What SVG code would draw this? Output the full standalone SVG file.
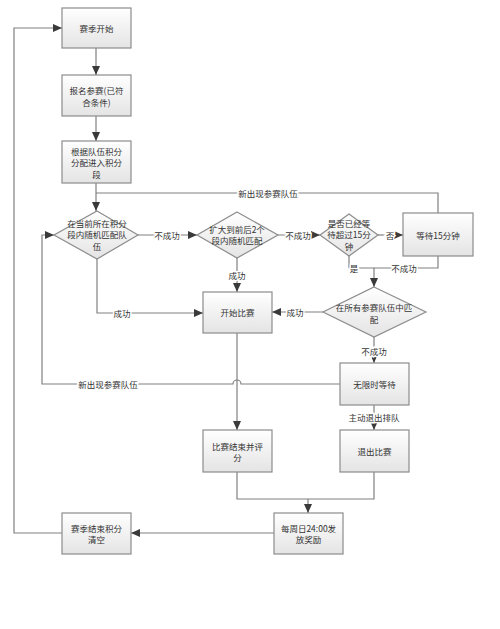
<svg xmlns="http://www.w3.org/2000/svg" width="500" height="629" viewBox="0 0 500 629">
<defs>
<linearGradient id="g" x1="0" y1="0" x2="0" y2="1">
<stop offset="0" stop-color="#ffffff"/>
<stop offset="1" stop-color="#e4e4e4"/>
</linearGradient>
<marker id="ar" markerUnits="userSpaceOnUse" markerWidth="9" markerHeight="8" refX="9" refY="4" orient="auto">
<path d="M0,0 L9,4 L0,8 Z" fill="#3a3a3a"/>
</marker>
<style>
.n rect,.n polygon{fill:url(#g);stroke:#8c8c8c;stroke-width:1.2}
text{font-family:"Noto Sans CJK SC","Liberation Sans",sans-serif;font-size:8.5px;fill:#333;text-anchor:middle;dominant-baseline:central}
.c path{fill:none;stroke:#808080;stroke-width:1.2}
.c .a{marker-end:url(#ar)}
.lb{stroke:#fff;stroke-width:3;paint-order:stroke}
</style>
</defs>
<rect width="500" height="629" fill="#fff"/>

<g id="connectors" class="c">
<path class="a" d="M96,48 V75"/>
<path class="a" d="M96,116 V141"/>
<path class="a" d="M96,183 V211"/>
<path d="M96,193 H438 V213"/>
<path class="a" d="M138,235 H197"/>
<path class="a" d="M97,259 V313 H203"/>
<path class="a" d="M237,258 V292"/>
<path class="a" d="M278,235 H320"/>
<path class="a" d="M378,235 H403"/>
<path d="M438,256 V268 H374"/>
<path class="a" d="M349,256 V268 H374 V287"/>
<path class="a" d="M323,312 H272"/>
<path class="a" d="M374,337 V363"/>
<path class="a" d="M340,384 H241 A4,4 0 0 0 233,384 H42 V235 H54"/>
<path class="a" d="M374,405 V430"/>
<path class="a" d="M237,333 V430"/>
<path d="M237,472 V499 H374 V472"/>
<path class="a" d="M308,499 V513"/>
<path class="a" d="M274,533 H131"/>
<path class="a" d="M62,533 H14 V28 H62"/>
<text class="lb" x="268" y="193">新出现参赛队伍</text>
<text class="lb" x="167" y="235">不成功</text>
<text class="lb" x="122" y="313">成功</text>
<text class="lb" x="237" y="275">成功</text>
<text class="lb" x="298" y="235">不成功</text>
<text class="lb" x="390" y="235">否</text>
<text class="lb" x="404" y="268">不成功</text>
<text class="lb" x="354" y="268">是</text>
<text class="lb" x="295" y="312">成功</text>
<text class="lb" x="374" y="351">不成功</text>
<text class="lb" x="108" y="384">新出现参赛队伍</text>
<text class="lb" x="374" y="417">主动退出排队</text>
</g>

<g id="n1" class="n"><rect x="62" y="8" width="69" height="40"/><text x="96.5" y="28">赛季开始</text></g>
<g id="n2" class="n"><rect x="62" y="75" width="69" height="41"/><text x="96.5" y="90">报名参赛(已符</text><text x="96.5" y="101.5">合条件)</text></g>
<g id="n3" class="n"><rect x="62" y="141" width="69" height="42"/><text x="96.5" y="150.5">根据队伍积分</text><text x="96.5" y="162">分配进入积分</text><text x="96.5" y="173.5">段</text></g>
<g id="d1" class="n"><polygon points="97,211 138,235 97,259 54,235"/><text x="97" y="222.5">在当前所在积分</text><text x="97" y="234">段内随机匹配队</text><text x="97" y="245.5">伍</text></g>
<g id="d2" class="n"><polygon points="237,212 278,235 237,258 197,235"/><text x="237" y="228.5">扩大到前后2个</text><text x="237" y="240">段内随机匹配</text></g>
<g id="d3" class="n"><polygon points="349,214 378,235 349,256 320,235"/><text x="349" y="222.5">是否已经等</text><text x="349" y="234">待超过15分</text><text x="349" y="245.5">钟</text></g>
<g id="n4" class="n"><rect x="403" y="213" width="70" height="43"/><text x="438" y="235">等待15分钟</text></g>
<g id="n5" class="n"><rect x="203" y="292" width="69" height="41"/><text x="237.5" y="312">开始比赛</text></g>
<g id="d4" class="n"><polygon points="374,287 426,312 374,337 323,312"/><text x="374" y="307">在所有参赛队伍中匹</text><text x="374" y="318.5">配</text></g>
<g id="n6" class="n"><rect x="340" y="363" width="69" height="42"/><text x="374.5" y="384">无限时等待</text></g>
<g id="n7" class="n"><rect x="203" y="430" width="69" height="42"/><text x="237.5" y="445.5">比赛结束并评</text><text x="237.5" y="457">分</text></g>
<g id="n8" class="n"><rect x="340" y="430" width="69" height="42"/><text x="374.5" y="451">退出比赛</text></g>
<g id="n9" class="n"><rect x="274" y="513" width="69" height="41"/><text x="308.5" y="527.5">每周日24:00发</text><text x="308.5" y="539">放奖励</text></g>
<g id="n10" class="n"><rect x="62" y="513" width="69" height="41"/><text x="96.5" y="527.5">赛季结束积分</text><text x="96.5" y="539">清空</text></g>
</svg>
